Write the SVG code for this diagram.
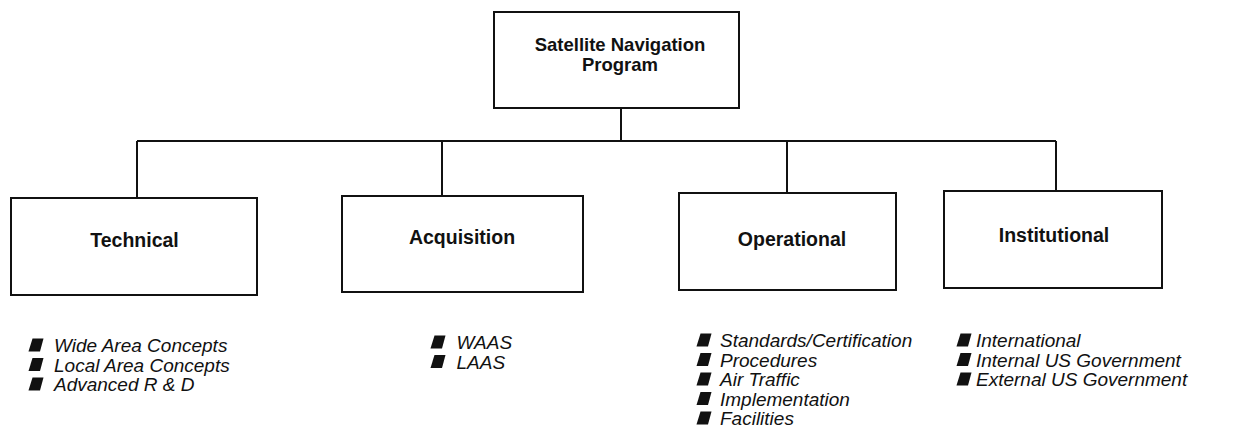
<svg xmlns="http://www.w3.org/2000/svg" xmlns:xlink="http://www.w3.org/1999/xlink" width="1254" height="432" viewBox="0 0 1254 432">
  <style>
    .box { fill: #fff; stroke: #111; stroke-width: 2; }
    .link { fill: none; stroke: #111; stroke-width: 2; }
    .label { font-family: "Liberation Sans", Arial, sans-serif; font-weight: bold; font-size: 19.5px; fill: #111; text-anchor: middle; }
    .title { font-size: 18.5px; }
    .item { font-family: "Liberation Sans", Arial, sans-serif; font-style: italic; font-size: 19px; fill: #111; }
    .bullet { fill: #111; }
  </style>
  <defs>
    <!-- slanted square bullet, origin at bottom-left on the text baseline -->
    <path id="b" d="M0,0 H11.5 L15,-13 H4 Z"/>
  </defs>
  <rect width="1254" height="432" fill="#fff"/>

  <g id="connectors">
    <path class="link" d="M621,108 V141"/>
    <path class="link" d="M137,141 H1056"/>
    <path class="link" d="M137,141 V198"/>
    <path class="link" d="M442,141 V196"/>
    <path class="link" d="M787,141 V193"/>
    <path class="link" d="M1056,141 V191"/>
  </g>

  <g id="program">
    <rect class="box" x="494" y="12" width="245" height="96"/>
    <text class="label title" x="620" y="50.5">Satellite Navigation<tspan x="620" y="71">Program</tspan></text>
  </g>

  <g id="technical">
    <rect class="box" x="11" y="198" width="246" height="97"/>
    <text class="label" x="134.5" y="246.5">Technical</text>
  </g>

  <g id="acquisition">
    <rect class="box" x="342" y="196" width="241" height="96"/>
    <text class="label" x="462" y="244">Acquisition</text>
  </g>

  <g id="operational">
    <rect class="box" x="679" y="193" width="217" height="97"/>
    <text class="label" x="792" y="246">Operational</text>
  </g>

  <g id="institutional">
    <rect class="box" x="944" y="191" width="218" height="97"/>
    <text class="label" x="1054" y="242">Institutional</text>
  </g>

  <g id="technical-items">
    <use class="bullet" xlink:href="#b" x="28.5" y="351.5"/>
    <use class="bullet" xlink:href="#b" x="28.5" y="371"/>
    <use class="bullet" xlink:href="#b" x="28.5" y="390.5"/>
    <text class="item" x="54" y="352">Wide Area Concepts</text>
    <text class="item" x="54" y="371.5">Local Area Concepts</text>
    <text class="item" x="54" y="391">Advanced R &amp; D</text>
  </g>

  <g id="acquisition-items">
    <use class="bullet" xlink:href="#b" x="430.5" y="348.5"/>
    <use class="bullet" xlink:href="#b" x="430.5" y="368"/>
    <text class="item" x="456.5" y="349">WAAS</text>
    <text class="item" x="456.5" y="368.5">LAAS</text>
  </g>

  <g id="operational-items">
    <use class="bullet" xlink:href="#b" x="696.5" y="346.5"/>
    <use class="bullet" xlink:href="#b" x="696.5" y="366"/>
    <use class="bullet" xlink:href="#b" x="696.5" y="385.5"/>
    <use class="bullet" xlink:href="#b" x="696.5" y="405"/>
    <use class="bullet" xlink:href="#b" x="696.5" y="424.5"/>
    <text class="item" x="720" y="347">Standards/Certification</text>
    <text class="item" x="720" y="366.5">Procedures</text>
    <text class="item" x="720" y="386">Air Traffic</text>
    <text class="item" x="720" y="405.5">Implementation</text>
    <text class="item" x="720" y="425">Facilities</text>
  </g>

  <g id="institutional-items">
    <use class="bullet" xlink:href="#b" x="956.5" y="346.5"/>
    <use class="bullet" xlink:href="#b" x="956.5" y="366"/>
    <use class="bullet" xlink:href="#b" x="956.5" y="385.5"/>
    <text class="item" x="976" y="347">International</text>
    <text class="item" x="976" y="366.5">Internal US Government</text>
    <text class="item" x="976" y="386">External US Government</text>
  </g>
</svg>
